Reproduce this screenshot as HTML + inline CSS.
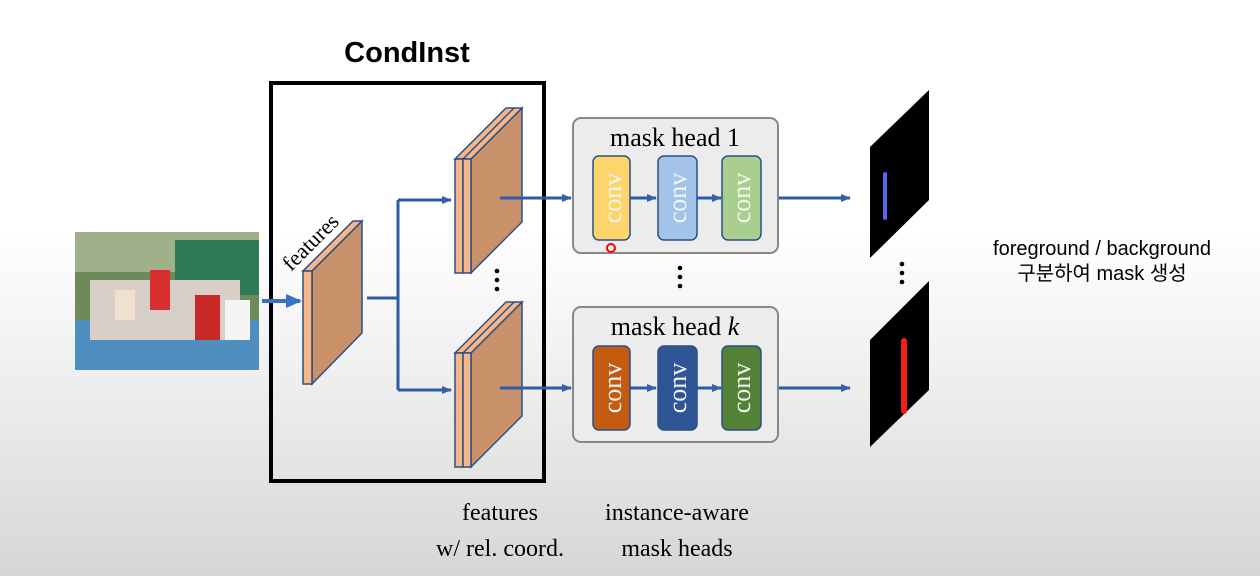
<!DOCTYPE html>
<html><head><meta charset="utf-8"><style>
html,body{margin:0;padding:0;}
body{width:1260px;height:576px;overflow:hidden;background:linear-gradient(#fff 0px,#fff 230px,#ececec 400px,#d6d6d6 576px);}
svg{display:block}
</style></head><body>
<svg width="1260" height="576" viewBox="0 0 1260 576" xmlns="http://www.w3.org/2000/svg">
<defs>
<marker id="ah" markerWidth="10" markerHeight="10" refX="9" refY="5" orient="auto" markerUnits="userSpaceOnUse"><path d="M0,1 L10,5 L0,9 z" fill="#3a5fa8"/></marker>
<marker id="ahb" markerWidth="16" markerHeight="14" refX="14" refY="7" orient="auto" markerUnits="userSpaceOnUse"><path d="M0,0 L16,7 L0,14 z" fill="#3a6fc8"/></marker>
</defs>
<text x="407" y="62" text-anchor="middle" font-family="Liberation Sans, sans-serif" font-weight="bold" font-size="29">CondInst</text>
<rect x="271" y="83" width="273" height="398" fill="none" stroke="#000" stroke-width="4"/>
<!-- photo -->
<rect x="75" y="232" width="184" height="138" fill="#6f8a5a"/>
<rect x="75" y="232" width="184" height="40" fill="#9fb08a"/>
<rect x="175" y="240" width="84" height="55" fill="#2e7a55"/>
<rect x="75" y="320" width="184" height="50" fill="#4f8fc0"/>
<rect x="90" y="280" width="150" height="60" fill="#d8d0c8"/>
<rect x="150" y="270" width="20" height="40" fill="#d83030"/>
<rect x="195" y="295" width="25" height="45" fill="#c82828"/>
<rect x="115" y="290" width="20" height="30" fill="#f0e0d0"/>
<rect x="225" y="300" width="25" height="40" fill="#f4f4f4"/>
<line x1="262" y1="301" x2="300" y2="301" stroke="#3a6fc8" stroke-width="4" marker-end="url(#ahb)"/>
<g stroke="#2d4f86" stroke-width="1.5">
<polygon points="312,271 362,221 362,333 312,384" fill="#c8916a"/>
<polygon points="303,271 312,271 362,221 353,221" fill="#f5b68a"/>
<rect x="303" y="271" width="9" height="113" fill="#f5b68a"/>
</g>
<text transform="translate(291,272) rotate(-45)" font-family="Liberation Serif, serif" font-size="22">features</text>
<g stroke="#2d5ba6" stroke-width="3" fill="none">
<polyline points="367,298 398,298"/>
<polyline points="398,200 398,390"/>
<line x1="398" y1="200" x2="451" y2="200" marker-end="url(#ah)"/>
<line x1="398" y1="390" x2="451" y2="390" marker-end="url(#ah)"/>
</g>
<g stroke="#2d4f86" stroke-width="1.5">
<polygon points="471,159 522,108 522,222 471,273" fill="#c8916a"/>
<polygon points="455,159 471,159 522,108 506,108" fill="#f5b68a"/>
<line x1="463" y1="159" x2="514" y2="108"/>
<rect x="455" y="159" width="8" height="114" fill="#f5b68a"/>
<rect x="463" y="159" width="8" height="114" fill="#f5b68a"/>
<polygon points="471,353 522,302 522,416 471,467" fill="#c8916a"/>
<polygon points="455,353 471,353 522,302 506,302" fill="#f5b68a"/>
<line x1="463" y1="353" x2="514" y2="302"/>
<rect x="455" y="353" width="8" height="114" fill="#f5b68a"/>
<rect x="463" y="353" width="8" height="114" fill="#f5b68a"/>
</g>
<g fill="#000"><circle cx="497" cy="271" r="2.3"/><circle cx="497" cy="280" r="2.3"/><circle cx="497" cy="289" r="2.3"/>
<circle cx="680" cy="268" r="2.3"/><circle cx="680" cy="277" r="2.3"/><circle cx="680" cy="286" r="2.3"/>
<circle cx="902" cy="264" r="2.3"/><circle cx="902" cy="273" r="2.3"/><circle cx="902" cy="282" r="2.3"/></g>
<rect x="573" y="118" width="205" height="135" rx="8" fill="#ececec" stroke="#888" stroke-width="2"/>
<rect x="573" y="307" width="205" height="135" rx="8" fill="#ececec" stroke="#888" stroke-width="2"/>
<g stroke="#2d5ba6" stroke-width="3" fill="none">
<line x1="500" y1="198" x2="571" y2="198" marker-end="url(#ah)"/>
<line x1="500" y1="388" x2="571" y2="388" marker-end="url(#ah)"/>
<line x1="630" y1="198" x2="656" y2="198" marker-end="url(#ah)"/>
<line x1="697" y1="198" x2="721" y2="198" marker-end="url(#ah)"/>
<line x1="779" y1="198" x2="850" y2="198" marker-end="url(#ah)"/>
<line x1="630" y1="388" x2="656" y2="388" marker-end="url(#ah)"/>
<line x1="697" y1="388" x2="721" y2="388" marker-end="url(#ah)"/>
<line x1="779" y1="388" x2="850" y2="388" marker-end="url(#ah)"/>
</g>
<text x="675" y="146" text-anchor="middle" font-family="Liberation Serif, serif" font-size="26">mask head 1</text>
<text x="675" y="335" text-anchor="middle" font-family="Liberation Serif, serif" font-size="26">mask head <tspan font-style="italic">k</tspan></text>
<g stroke="#2d4f86" stroke-width="1.5">
<rect x="593" y="156" width="37" height="84" rx="6" fill="#fdd56a"/>
<rect x="658" y="156" width="39" height="84" rx="6" fill="#a3c4e8"/>
<rect x="722" y="156" width="39" height="84" rx="6" fill="#a9cf8e"/>
<rect x="593" y="346" width="37" height="84" rx="6" fill="#c55a11"/>
<rect x="658" y="346" width="39" height="84" rx="6" fill="#2f5597"/>
<rect x="722" y="346" width="39" height="84" rx="6" fill="#538135"/>
</g>
<g font-family="Liberation Serif, serif" font-size="26" fill="#f4f4f4" text-anchor="middle">
<text transform="translate(621,198) rotate(-90)">conv</text>
<text transform="translate(686,198) rotate(-90)">conv</text>
<text transform="translate(750,198) rotate(-90)">conv</text>
<text transform="translate(621,388) rotate(-90)">conv</text>
<text transform="translate(686,388) rotate(-90)">conv</text>
<text transform="translate(750,388) rotate(-90)">conv</text>
</g>
<circle cx="611" cy="248" r="4" fill="none" stroke="#f00" stroke-width="2"/>
<polygon points="870,147 929,90 929,200 870,258" fill="#000"/>
<polygon points="870,340 929,281 929,390 870,447" fill="#000"/>
<rect x="883" y="172" width="4" height="48" rx="2" fill="#5a62f0"/>
<rect x="901" y="338" width="6" height="76" rx="3" fill="#f02010"/>
<g font-family="Liberation Sans, 'Noto Sans CJK KR', sans-serif" font-size="20" text-anchor="middle">
<text x="1102" y="255">foreground / background</text>
<text x="1102" y="280">구분하여 mask 생성</text>
</g>
<g font-family="Liberation Serif, serif" font-size="24" text-anchor="middle">
<text x="500" y="520">features</text>
<text x="500" y="556">w/ rel. coord.</text>
<text x="677" y="520">instance-aware</text>
<text x="677" y="556">mask heads</text>
</g>
</svg>
</body></html>
